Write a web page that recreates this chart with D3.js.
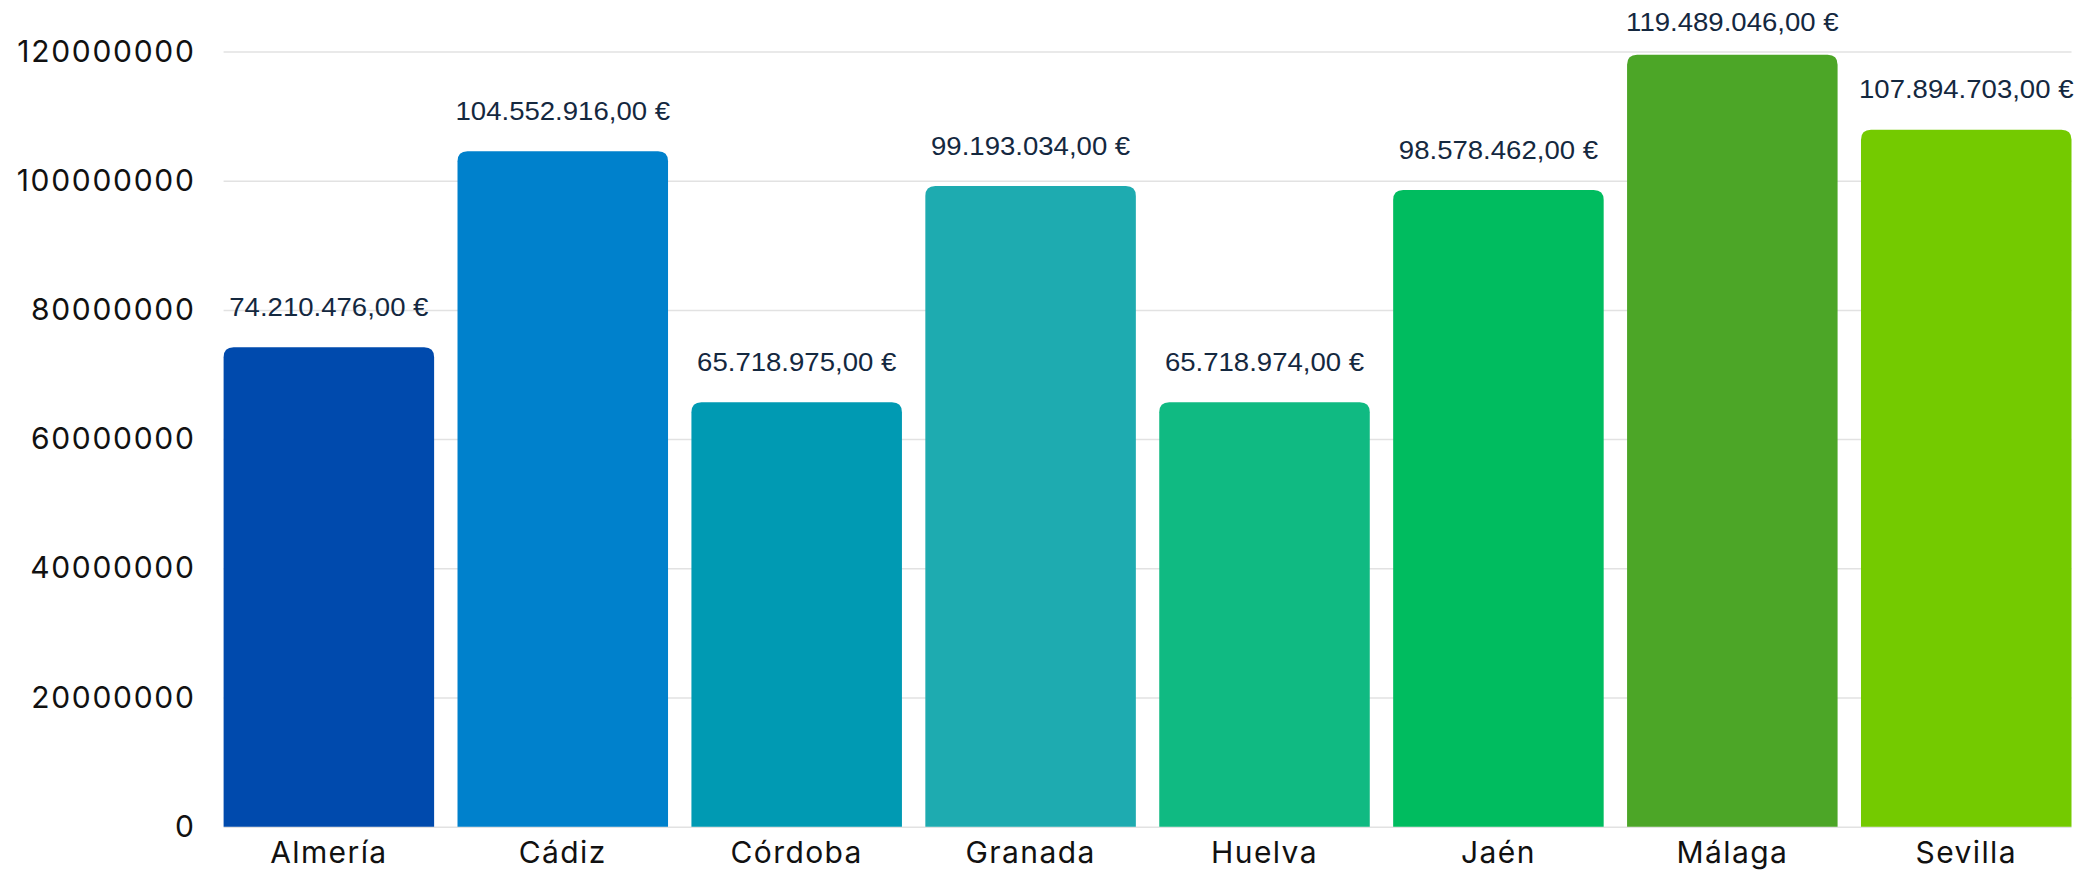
<!DOCTYPE html>
<html>
<head>
<meta charset="utf-8">
<script src="https://cdn.jsdelivr.net/npm/d3@7"></script>
<style>
  body { margin: 0; background: #fff; }
  .y-axis text, .x-axis text { font-family: Inter, "Noto Sans", sans-serif; fill: #111; }
  .grid line { stroke: #e2e2e2; stroke-width: 1.5; }
  .value-label { font-family: "Liberation Sans", Arial, sans-serif; fill: #14283f; }
</style>
</head>
<body>
<div id="chart-area"></div>
<script>
// Data
var provincias = ["Almería", "Cádiz", "Córdoba", "Granada", "Huelva", "Jaén", "Málaga", "Sevilla"];
var importes = [74210476, 104552916, 65718975, 99193034, 65718974, 98578462, 119489046, 107894703];
var colores = ["#004aad", "#0081cc", "#009ab3", "#1eabb0", "#10ba82", "#00bc5f", "#4ca627", "#74ca00"];
var yTicks = [0, 20000000, 40000000, 60000000, 80000000, 100000000, 120000000];

var width = 2099, height = 874;
var plotLeft = 223.6, plotRight = 2071.5;
var plotTop = 51.5, plotBottom = 826.7;
var radius = 10;

var svg = d3.select("#chart-area")
  .append("svg")
    .attr("width", width)
    .attr("height", height);

var x = d3.scaleBand()
  .domain(provincias)
  .range([plotLeft, plotRight])
  .paddingInner(0.1)
  .paddingOuter(0);

var y = d3.scaleLinear()
  .domain([0, 120000000])
  .range([plotBottom, plotTop]);

// Gridlines
svg.append("g")
  .attr("class", "grid")
  .attr("transform", "translate(" + plotLeft + ",0)")
  .call(d3.axisLeft(y).tickValues(yTicks).tickSize(-(plotRight - plotLeft)).tickFormat(""))
  .call(g => g.select(".domain").remove());

// Y axis
var yAxisGroup = svg.append("g")
  .attr("class", "y-axis")
  .attr("transform", "translate(" + plotLeft + ",0)")
  .call(d3.axisLeft(y).tickValues(yTicks).tickSize(0).tickPadding(28).tickFormat(d3.format("d")));
yAxisGroup.select(".domain").remove();
yAxisGroup.selectAll("text")
  .attr("font-size", "30px")
  .attr("letter-spacing", "1.7px");

// X axis
var xAxisGroup = svg.append("g")
  .attr("class", "x-axis")
  .attr("transform", "translate(0," + plotBottom + ")")
  .call(d3.axisBottom(x).tickSize(0).tickPadding(15));
xAxisGroup.select(".domain").remove();
xAxisGroup.selectAll("text")
  .attr("font-size", "30px")
  .attr("letter-spacing", "1.4px");

// Bars with rounded top corners
function barPath(d, i) {
  var x0 = x(provincias[i]), w = x.bandwidth();
  var top = y(d), bottom = y(0);
  var r = Math.min(radius, (bottom - top) / 2);
  return "M" + x0 + "," + bottom +
    "V" + (top + r) +
    "Q" + x0 + "," + top + " " + (x0 + r) + "," + top +
    "H" + (x0 + w - r) +
    "Q" + (x0 + w) + "," + top + " " + (x0 + w) + "," + (top + r) +
    "V" + bottom + "Z";
}

svg.append("g")
  .selectAll("path")
  .data(importes)
  .enter()
  .append("path")
    .attr("d", barPath)
    .attr("fill", (d, i) => colores[i]);

// Value labels
var euro = d3.formatLocale({ decimal: ",", thousands: ".", grouping: [3], currency: ["", " €"] });
var fmt = euro.format("$,.2f");

svg.append("g")
  .selectAll("text")
  .data(importes)
  .enter()
  .append("text")
    .attr("class", "value-label")
    .attr("transform", (d, i) => {
      var cy = Math.max(y(d) - 40, 22); // keep the tallest one inside the canvas
      return "translate(" + (x(provincias[i]) + x.bandwidth() / 2) + "," + cy + ") scale(1.06,1)";
    })
    .attr("text-anchor", "middle")
    .attr("dominant-baseline", "central")
    .attr("font-size", "26px")
    .text(d => fmt(d));
</script>
</body>
</html>
